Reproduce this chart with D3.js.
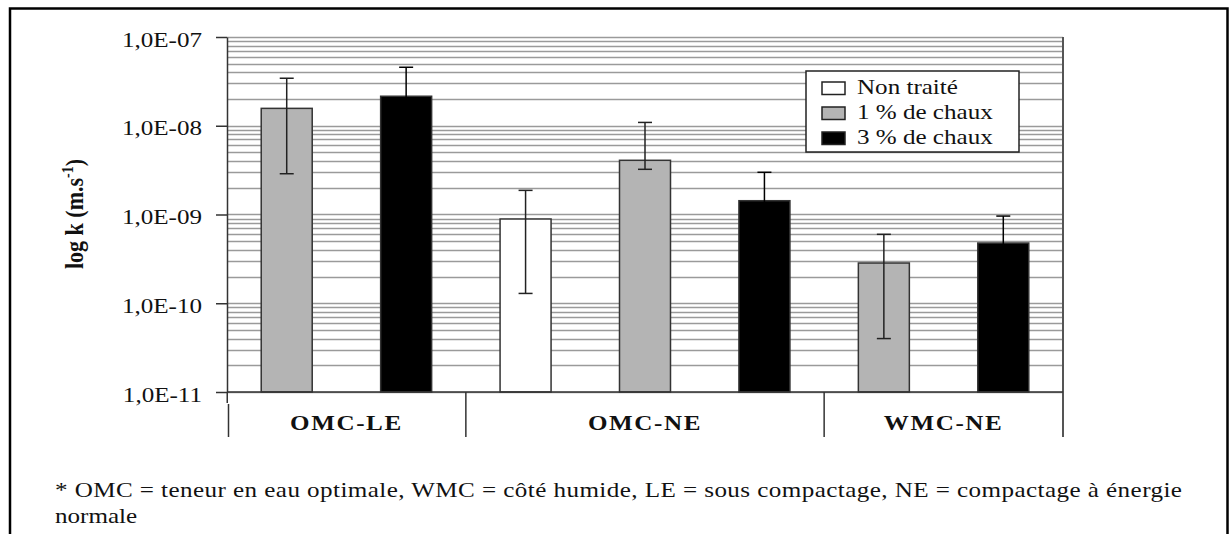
<!DOCTYPE html>
<html><head><meta charset="utf-8">
<script src="https://cdn.jsdelivr.net/npm/d3@7"></script>
<style>
html,body{margin:0;padding:0;background:#fff;}
svg{display:block;}
</style></head>
<body>
<svg id="c" width="1229" height="534"></svg>
<script>
// ---- data ----
const groups = ["OMC-LE", "OMC-NE", "WMC-NE"];
const seriesNames = ["Non traité", "1 % de chaux", "3 % de chaux"];
const barGroup  = ["OMC-LE", "OMC-LE", "OMC-NE", "OMC-NE", "OMC-NE", "WMC-NE", "WMC-NE"];
const barSeries = [1, 2, 0, 1, 2, 1, 2];
const values    = [1.57e-8, 2.15e-8, 8.9e-10, 4.08e-9, 1.43e-9, 2.84e-10, 4.77e-10];
const errHigh   = [3.43e-8, 4.56e-8, 1.87e-9, 1.09e-8, 2.99e-9, 5.98e-10, 9.6e-10];
const errLow    = [2.88e-9, 1.0e-8, 1.29e-10, 3.23e-9, 6.8e-10, 4.0e-11, 2.4e-10];
const yTickValues = [1e-11, 1e-10, 1e-9, 1e-8, 1e-7];
const yTickLabels = ["1,0E-11", "1,0E-10", "1,0E-09", "1,0E-08", "1,0E-07"];
const yTitle = "log k (m.s";
const yTitleSup = "-1";
const footnote1 = "* OMC = teneur en eau optimale, WMC = côté humide, LE = sous compactage, NE = compactage à énergie";
const footnote2 = "normale";

const FF = '"Liberation Serif","Times New Roman",Tinos,"DejaVu Serif",serif';

// ---- styles ----
const fills = ["#ffffff", "#b4b4b4", "#000000"];
const SX = 1.14;
const FS = 22;
const L = 227, R = 1063, T = 37, B = 392;

const svg = d3.select("#c").style("font-family", FF);

// outer frame
svg.append("rect").attr("x", 10).attr("y", 8.5).attr("width", 1217.5).attr("height", 600)
  .attr("fill", "none").attr("stroke", "#000").attr("stroke-width", 2.5);

const x = d3.scaleBand().domain(d3.range(values.length)).range([L, R])
  .paddingInner(0.573).paddingOuter(0.573 / 2);
const y = d3.scaleLog().domain([1e-11, 1e-7]).range([B, T]);

// gridlines
svg.append("g").selectAll("line").data(y.ticks()).join("line")
  .attr("x1", L).attr("x2", R)
  .attr("y1", d => Math.round(y(d)) + 0.5).attr("y2", d => Math.round(y(d)) + 0.5)
  .attr("stroke", "#9a9a9a").attr("stroke-width", 1.3);

// plot right border
svg.append("line").attr("x1", R).attr("x2", R).attr("y1", T).attr("y2", 437)
  .attr("stroke", "#555").attr("stroke-width", 2);

// bars
svg.append("g").selectAll("rect").data(values).join("rect")
  .attr("x", (d, i) => x(i)).attr("width", x.bandwidth())
  .attr("y", d => y(d)).attr("height", d => B - y(d))
  .attr("fill", (d, i) => fills[barSeries[i]])
  .attr("stroke", "#333").attr("stroke-width", 1.5);

// error bars
const eb = svg.append("g").attr("stroke-width", 1.5);
values.forEach((v, i) => {
  const cx = x(i) + x.bandwidth() / 2;
  const col = barSeries[i] === 2 ? "#000" : "#222";
  eb.append("line").attr("x1", cx).attr("x2", cx).attr("y1", y(errHigh[i])).attr("y2", y(errLow[i])).attr("stroke", col);
  [errHigh[i], errLow[i]].forEach(e => {
    eb.append("line").attr("x1", cx - 7).attr("x2", cx + 7).attr("y1", y(e)).attr("y2", y(e)).attr("stroke", col);
  });
});

// y axis
const yAxis = d3.axisLeft(y).tickValues(yTickValues)
  .tickFormat((d, i) => yTickLabels[i]).tickSize(11).tickSizeOuter(0).tickPadding(14);
const gy = svg.append("g").attr("transform", `translate(${L},0)`).call(yAxis);
gy.attr("font-family", null).attr("font-size", null);
gy.select(".domain").attr("stroke", "#333").attr("stroke-width", 1.5);
gy.selectAll(".tick line").attr("stroke", "#333").attr("stroke-width", 1.5);
gy.selectAll(".tick text")
  .attr("x", 0).attr("dy", null)
  .attr("transform", `translate(-25,9) scale(${SX},1)`)
  .style("font-family", FF).attr("font-size", FS).attr("fill", "#111");
svg.append("line").attr("x1", L + 0.25).attr("x2", L + 0.25).attr("y1", B).attr("y2", 403)
  .attr("stroke", "#333").attr("stroke-width", 1.5);

// x axis line
svg.append("line").attr("x1", L).attr("x2", R).attr("y1", B).attr("y2", B)
  .attr("stroke", "#333").attr("stroke-width", 1.5);

// group separators and labels
const step = x.step();
const bounds = [0];
groups.forEach(g => bounds.push(bounds[bounds.length - 1] + barGroup.filter(b => b === g).length));
bounds.forEach((b, k) => {
  const bx = L + step * b + (k === 0 ? 1.5 : 0);
  if (k < bounds.length - 1)
    svg.append("line").attr("x1", bx).attr("x2", bx).attr("y1", k === 0 ? 404 : B).attr("y2", 437)
      .attr("stroke", "#333").attr("stroke-width", 1.5);
});
groups.forEach((g, k) => {
  const cx = L + step * (bounds[k] + bounds[k + 1]) / 2;
  svg.append("text").attr("transform", `translate(${cx},430) scale(${SX},1)`)
    .attr("text-anchor", "middle").attr("font-weight", "bold").attr("font-size", FS)
    .attr("letter-spacing", 1.4).attr("fill", "#111").text(g);
});

// y title
const yt = svg.append("text").attr("transform", `translate(83,214) scale(${SX},1) rotate(-90)`)
  .attr("text-anchor", "middle").attr("font-weight", "bold").attr("font-size", FS).attr("fill", "#111");
yt.append("tspan").text(yTitle);
yt.append("tspan").attr("font-size", 14).attr("dy", -9).text(yTitleSup);
yt.append("tspan").attr("dy", 9).text(")");

// legend
const lg = svg.append("g");
lg.append("rect").attr("x", 806).attr("y", 71).attr("width", 213).attr("height", 81)
  .attr("fill", "#fff").attr("stroke", "#222").attr("stroke-width", 1.5);
seriesNames.forEach((s, i) => {
  lg.append("rect").attr("x", 822).attr("y", 82 + 25 * i).attr("width", 23).attr("height", 12.5)
    .attr("fill", fills[i]).attr("stroke", "#222").attr("stroke-width", 1.5);
  lg.append("text").attr("transform", `translate(857,${93.5 + 25 * i}) scale(${SX},1)`)
    .attr("font-size", FS).attr("fill", "#111").text(s);
});

// footnote (first line justified)
svg.append("text").attr("transform", `translate(55,497) scale(${SX},1)`)
  .attr("font-size", FS).attr("fill", "#111")
  .attr("textLength", 1127 / SX).attr("lengthAdjust", "spacing").text(footnote1);
svg.append("text").attr("transform", `translate(55,523) scale(${SX},1)`)
  .attr("font-size", FS).attr("fill", "#111").text(footnote2);
</script>
</body></html>
